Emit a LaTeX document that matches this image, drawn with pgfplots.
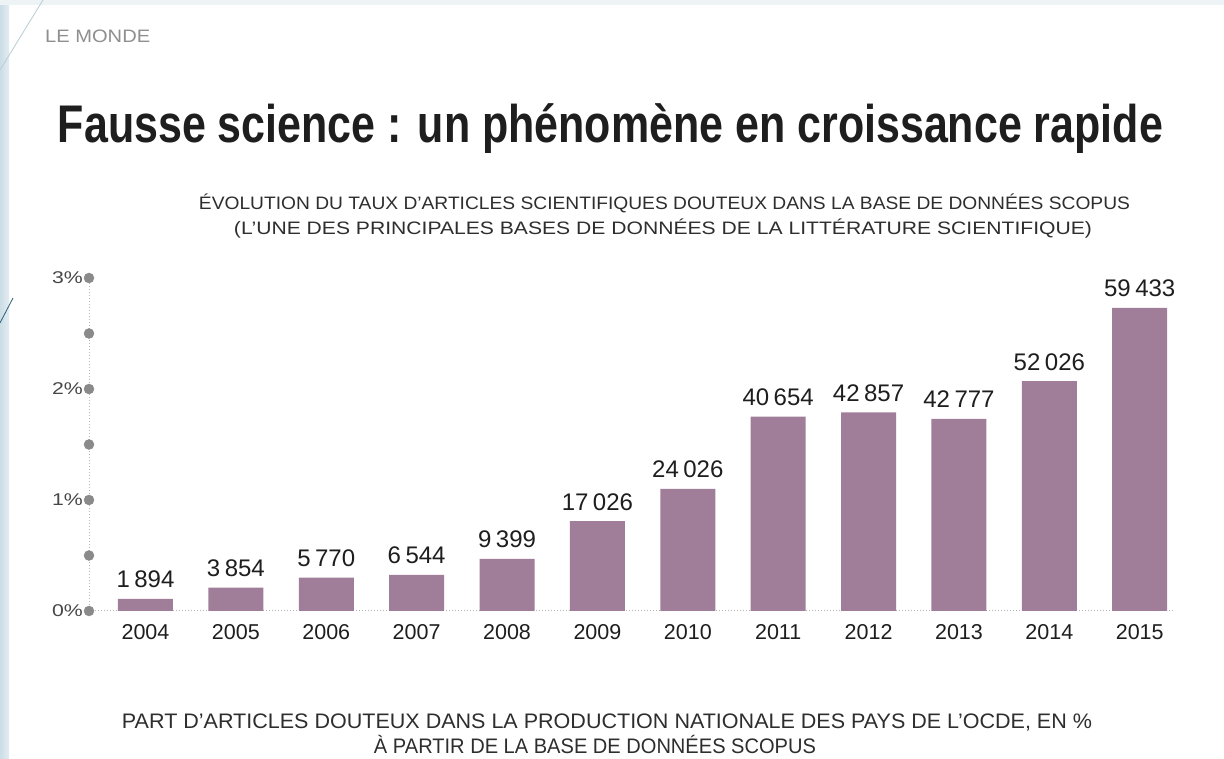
\documentclass[border=0pt]{standalone}
\usepackage{pgfplots}
\pgfplotsset{compat=1.18}
\usepackage{fontspec}
\usepackage{graphicx}
\setmainfont{Liberation Sans}
\definecolor{barc}{HTML}{A07D98}
\definecolor{dotgray}{HTML}{8A8A8A}
\definecolor{basegray}{HTML}{B5B5B5}
\definecolor{txtdark}{HTML}{1E1E1E}
\definecolor{txtmid}{HTML}{2E2E2E}
\definecolor{lemonde}{HTML}{8F8F8F}
\definecolor{bandA}{HTML}{CBDDE6}
\definecolor{bandB}{HTML}{E3EDF2}
\definecolor{bandtop}{HTML}{EEF3F5}
\definecolor{lineA}{HTML}{B9CCD6}
\definecolor{lineB}{HTML}{2E5E78}
% #1 x center, #2 baseline y (pixel from top), #3 width, #4 font size, #5 colour, #6 text
\newcommand\fitnode[6]{\node[anchor=base, inner sep=0pt, text=#5] at (#1,758-#2) {\resizebox{#3pt}{\height}{\fontsize{#4}{#4}\selectfont #6}};}
\begin{document}
\begin{tikzpicture}[x=1pt,y=1pt]
\fill[white] (0,0) rectangle (1224,758);
\useasboundingbox (0,0) rectangle (1224,758);
\shade[left color=bandA, right color=bandB] (0,0) rectangle (9,758);
\fill[bandtop] (0,753) rectangle (1224,758);
\draw[lineA, line width=0.8pt] (0,758-70) -- (43,758);
\draw[lineB, line width=0.8pt] (0,758-323) -- (13,758-298);

% texts
\node[anchor=base west, inner sep=0pt, text=lemonde] at (45,758-43) {\resizebox{105pt}{\height}{\fontsize{18}{18}\selectfont LE MONDE}};
\fitnode{610.5}{143}{1105}{53}{txtdark}{\bfseries Fausse science : un phénomène en croissance rapide}
\fitnode{664.5}{210}{931}{18}{txtmid}{ÉVOLUTION DU TAUX D’ARTICLES SCIENTIFIQUES DOUTEUX DANS LA BASE DE DONNÉES SCOPUS}
\fitnode{663}{235}{858}{18}{txtmid}{(L’UNE DES PRINCIPALES BASES DE DONNÉES DE LA LITTÉRATURE SCIENTIFIQUE)}
\fitnode{607}{728}{970}{21}{txtmid}{PART D’ARTICLES DOUTEUX DANS LA PRODUCTION NATIONALE DES PAYS DE L’OCDE, EN \%}
\fitnode{595}{753}{442}{21}{txtmid}{À PARTIR DE LA BASE DE DONNÉES SCOPUS}

\begin{axis}[
  at={(89pt,147pt)}, anchor=south west,
  scale only axis, width=1086pt, height=333pt,
  xmin=2003.375, xmax=2015.39, ymin=0, ymax=3,
  axis x line*=bottom, axis y line*=left,
  x axis line style={dotted, basegray, line width=1pt, -},
  y axis line style={dotted, basegray, line width=1pt, -},
  major tick length=0pt,
  xtick={2004,2005,2006,2007,2008,2009,2010,2011,2012,2013,2014,2015},
  xticklabels={2004,2005,2006,2007,2008,2009,2010,2011,2012,2013,2014,2015},
  xticklabel style={anchor=base, inner sep=0pt, yshift=-29pt, text=txtdark, font=\fontsize{21.5}{21.5}\selectfont},
  ytick={0,1,2,3},
  yticklabels={\scalebox{1.25}[1]{0\%},\scalebox{1.25}[1]{1\%},\scalebox{1.25}[1]{2\%},\scalebox{1.25}[1]{3\%}},
  yticklabel style={anchor=east, inner sep=0pt, xshift=-6pt, text=black!72, font=\fontsize{17}{17}\selectfont},
  /pgf/number format/assume math mode=true,
  clip=false,
]
\addplot[ybar, bar width=55pt, fill=barc, draw=none,
  point meta=explicit,
  nodes near coords={\pgfmathprintnumber[fixed, precision=0, 1000 sep={\kern4.5pt}]{\pgfplotspointmeta}},
  every node near coord/.append style={anchor=base, inner sep=0pt, yshift=11pt, text=txtdark, font=\fontsize{24}{24}\selectfont}]
coordinates {
 (2004,0.11) [1894]
 (2005,0.21) [3854]
 (2006,0.30) [5770]
 (2007,0.325) [6544]
 (2008,0.47) [9399]
 (2009,0.81) [17026]
 (2010,1.10) [24026]
 (2011,1.75) [40654]
 (2012,1.79) [42857]
 (2013,1.73) [42777]
 (2014,2.07) [52026]
 (2015,2.73) [59433]
};
\addplot[only marks, mark=*, mark size=5pt, dotgray, forget plot]
coordinates {(2003.375,0) (2003.375,0.5) (2003.375,1) (2003.375,1.5) (2003.375,2) (2003.375,2.5) (2003.375,3)};
\end{axis}
\end{tikzpicture}
\end{document}
